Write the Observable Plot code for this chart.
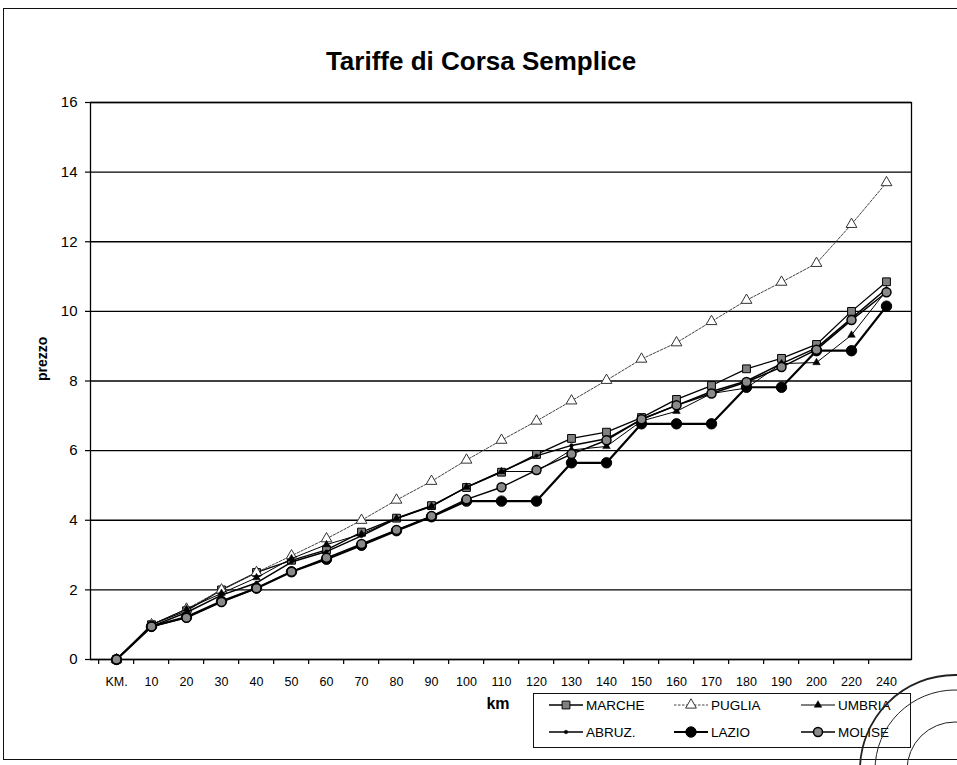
<!DOCTYPE html>
<html><head><meta charset="utf-8">
<script src="https://cdn.jsdelivr.net/npm/d3@7"></script>
<script src="https://cdn.jsdelivr.net/npm/@observablehq/plot@0.6"></script>
<style>
body{margin:0;background:#fff;font-family:"Liberation Sans",Arial,sans-serif;}
#wrap{position:relative;width:957px;height:765px;overflow:hidden;background:#fff;}
#frame{position:absolute;left:3px;top:8px;width:1000px;height:752px;border:1.5px solid #111;box-sizing:border-box;}
#chart{position:absolute;left:0;top:0;}
#legend{position:absolute;left:533px;top:693px;width:378px;height:55px;border:1.3px solid #111;box-sizing:border-box;background:#fff;}
#stamp{position:absolute;left:0;top:0;pointer-events:none;}
</style></head><body>
<div id="wrap"><div id="frame"></div><div id="chart"></div><div id="legend"></div><svg id="stamp" width="957" height="765"></svg></div>
<script>
// ---- data ----
const categories = ["KM.","10","20","30","40","50","60","70","80","90","100","110","120","130","140","150","160","170","180","190","200","220","240"];
const seriesNames = ["MARCHE","PUGLIA","UMBRIA","ABRUZ.","LAZIO","MOLISE"];
const marche = [0,1.0,1.4,2.0,2.5,2.85,3.15,3.66,4.06,4.42,4.94,5.38,5.89,6.35,6.53,6.95,7.47,7.87,8.35,8.65,9.05,10.0,10.85];
const puglia = [0,1.0,1.45,2.0,2.5,2.98,3.47,4.0,4.58,5.12,5.73,6.3,6.85,7.43,8.02,8.63,9.1,9.71,10.32,10.84,11.38,12.5,13.7];
const umbria = [0,1.0,1.45,1.9,2.35,2.9,3.3,3.6,4.05,4.4,4.95,5.4,5.4,6.02,6.12,6.85,7.13,7.64,7.8,8.5,8.53,9.32,10.6];
const abruz  = [0,0.95,1.35,1.85,2.2,2.8,3.1,3.55,4.05,4.4,4.95,5.4,5.85,6.15,6.34,6.9,7.3,7.7,8.0,8.5,8.95,9.8,10.65];
const lazio  = [0,0.95,1.22,1.67,2.05,2.52,2.88,3.28,3.7,4.1,4.55,4.55,4.55,5.65,5.65,6.77,6.77,6.77,7.82,7.82,8.87,8.87,10.15];
const molise = [0,0.95,1.2,1.65,2.05,2.52,2.92,3.32,3.72,4.12,4.6,4.95,5.44,5.9,6.3,6.9,7.3,7.64,7.97,8.4,8.9,9.75,10.55];
const yTicks = [0,2,4,6,8,10,12,14,16];
const titleText = "Tariffe di Corsa Semplice";
const yLabel = "prezzo";
const xLabel = "km";

const values = [marche, puglia, umbria, abruz, lazio, molise];
const styles = {
  "MARCHE": {stroke:"#000", sw:1.3, dash:null, symbol:"square", r:4.4, fill:"#808080", mstroke:"#000", msw:1},
  "PUGLIA": {stroke:"#444", sw:1, dash:"2.5,1.5", symbol:"triangle", r:4.0, fill:"#fff", mstroke:"#333", msw:1},
  "UMBRIA": {stroke:"#000", sw:1, dash:null, symbol:"triangle", r:2.8, fill:"#000", mstroke:"#000", msw:0.5},
  "ABRUZ.": {stroke:"#000", sw:1.5, dash:null, symbol:"circle", r:1.8, fill:"#000", mstroke:"#000", msw:0.5},
  "LAZIO":  {stroke:"#000", sw:2.2, dash:null, symbol:"circle", r:5.2, fill:"#000", mstroke:"#000", msw:1},
  "MOLISE": {stroke:"#000", sw:1.5, dash:null, symbol:"circle", r:4.5, fill:"#8a8a8a", mstroke:"#000", msw:1.5}
};
const data = seriesNames.flatMap((s, i) => categories.map((c, j) => ({serie: s, cat: c, value: values[i][j]})));

const W = 957, H = 765, mL = 90, mR = 46, mT = 102, mB = 106;
const step = (W - mL - mR) / categories.length;
const font = "Liberation Sans, Arial, sans-serif";

const seriesMarks = seriesNames.flatMap(s => {
  const st = styles[s];
  const d = data.filter(e => e.serie === s);
  return [
    Plot.line(d, {x: "cat", y: "value", stroke: st.stroke, strokeWidth: st.sw, strokeDasharray: st.dash}),
    Plot.dot(d, {x: "cat", y: "value", symbol: st.symbol, r: st.r, fill: st.fill, stroke: st.mstroke, strokeWidth: st.msw})
  ];
});

const plot = Plot.plot({
  width: W, height: H,
  marginLeft: mL, marginRight: mR, marginTop: mT, marginBottom: mB,
  style: {fontFamily: font, background: "transparent", color: "#000", overflow: "visible"},
  x: {type: "point", domain: categories, padding: 0.5, align: 0.5},
  y: {domain: [0, 16]},
  marks: [
    Plot.ruleY(yTicks, {stroke: "#000", strokeWidth: 1.3}),
    Plot.frame({stroke: "#000", strokeWidth: 1.3}),
    Plot.axisY({ticks: yTicks, tickSize: 5, tickPadding: 8, fontSize: 15, label: null, strokeWidth: 1.2}),
    Plot.axisX({tickSize: 0, tickPadding: 18, fontSize: 12.5, label: null}),
    Plot.axisX({tickSize: 5, tickFormat: () => "", dx: -step / 2, label: null, strokeWidth: 1.2}),
    ...seriesMarks,
    Plot.text([titleText], {frameAnchor: "top", lineAnchor: "middle", dy: -41, dx: -20, fontSize: 26, fontWeight: "bold"}),
    Plot.text([yLabel], {frameAnchor: "left", rotate: -90, dx: -48, fontSize: 14, fontWeight: "bold"}),
    Plot.text([xLabel], {frameAnchor: "bottom", lineAnchor: "middle", dy: 44, dx: -3, fontSize: 16, fontWeight: "bold"})
  ]
});
document.getElementById("chart").appendChild(plot);

// ---- legend ----
const leg = d3.select("#legend").append("svg").attr("width", 376).attr("height", 53).style("display", "block");
const colX = [15, 140, 267], rowY = [11, 38];
seriesNames.forEach((s, i) => {
  const st = styles[s];
  const x0 = colX[i % 3], y0 = rowY[Math.floor(i / 3)];
  const g = leg.append("g").attr("transform", `translate(${x0},${y0})`);
  g.append("line").attr("x1", 0).attr("x2", 34).attr("y1", 0).attr("y2", 0)
    .attr("stroke", st.stroke).attr("stroke-width", st.sw).attr("stroke-dasharray", st.dash);
  const sym = {square: d3.symbolSquare, triangle: d3.symbolTriangle, circle: d3.symbolCircle}[st.symbol];
  g.append("path").attr("transform", "translate(17,0)")
    .attr("d", d3.symbol(sym, st.r * st.r * Math.PI)())
    .attr("fill", st.fill).attr("stroke", st.mstroke).attr("stroke-width", st.msw);
  g.append("text").attr("x", 37).attr("y", 0).attr("dy", "0.36em")
    .attr("font-size", 13.5).attr("font-family", font).text(s);
});

// ---- rubber stamp outline on the scanned page (no text, to keep labels legible) ----
const stp = d3.select("#stamp").append("g").attr("transform", "translate(955,770)")
  .attr("fill", "none").attr("stroke", "#222");
stp.append("circle").attr("r", 95).attr("stroke-width", 1.8);
stp.append("circle").attr("r", 80).attr("stroke-width", 1);
stp.append("circle").attr("r", 48).attr("stroke-width", 1);
</script>
</body></html>
